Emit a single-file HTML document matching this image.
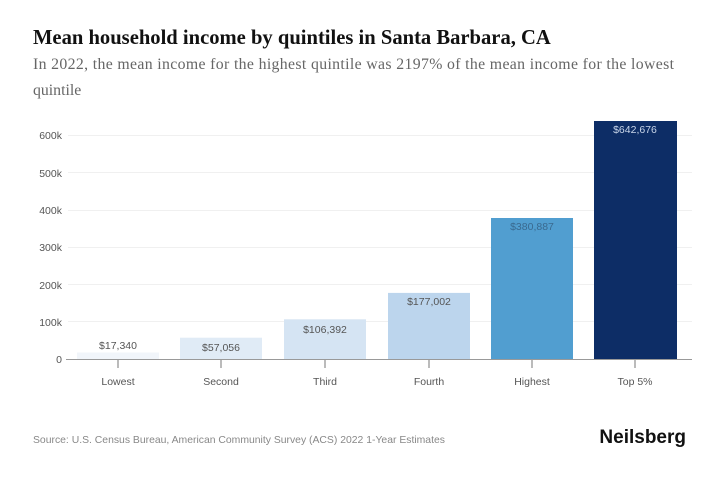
<!DOCTYPE html>
<html><head><meta charset="utf-8"><style>
body{margin:0;background:#fff;width:720px;height:480px;overflow:hidden}
</style></head><body>
<svg width="720" height="480" xmlns="http://www.w3.org/2000/svg">
<text x="33" y="44" font-family="Liberation Serif, serif" font-weight="bold" font-size="20.6" fill="#111">Mean household income by quintiles in Santa Barbara, CA</text>
<text x="33" y="69" font-family="Liberation Serif, serif" font-size="15.8" fill="#666" textLength="641" lengthAdjust="spacing">In 2022, the mean income for the highest quintile was 2197% of the mean income for the lowest</text>
<text x="33" y="95" font-family="Liberation Serif, serif" font-size="15.8" fill="#666">quintile</text>
<g font-family="Liberation Sans, sans-serif" font-size="10.5" fill="#555" text-anchor="end">
<text x="62" y="363">0</text><text x="62" y="326">100k</text><text x="62" y="289">200k</text><text x="62" y="251">300k</text><text x="62" y="214">400k</text><text x="62" y="177">500k</text><text x="62" y="139">600k</text>
</g>
<g stroke="#f0f0f0" stroke-width="1">
<line x1="68" x2="692" y1="321.5" y2="321.5"/><line x1="68" x2="692" y1="284.5" y2="284.5"/><line x1="68" x2="692" y1="247.5" y2="247.5"/><line x1="68" x2="692" y1="210.5" y2="210.5"/><line x1="68" x2="692" y1="172.5" y2="172.5"/><line x1="68" x2="692" y1="135.5" y2="135.5"/>
</g>
<rect x="77" y="352.5" width="82" height="6.5" fill="#f1f5fa"/>
<rect x="180" y="337.7" width="82" height="21.3" fill="#e0ebf6"/>
<rect x="284" y="319.3" width="82" height="39.7" fill="#d5e4f3"/>
<rect x="388" y="292.9" width="82" height="66.1" fill="#bcd5ed"/>
<rect x="491" y="218" width="82" height="141" fill="#519ed0"/>
<rect x="594" y="121" width="83" height="238" fill="#0d2d66"/>
<line x1="66" x2="692" y1="359.5" y2="359.5" stroke="#999"/>
<g stroke="#777"><line x1="118" x2="118" y1="360" y2="368"/><line x1="221" x2="221" y1="360" y2="368"/><line x1="325" x2="325" y1="360" y2="368"/><line x1="429" x2="429" y1="360" y2="368"/><line x1="532" x2="532" y1="360" y2="368"/><line x1="635" x2="635" y1="360" y2="368"/></g>
<g font-family="Liberation Sans, sans-serif" font-size="10.5" fill="#555" text-anchor="middle">
<text x="118" y="349">$17,340</text><text x="221" y="351">$57,056</text><text x="325" y="333">$106,392</text><text x="429" y="305">$177,002</text><text x="532" y="230" fill="#3a6a90">$380,887</text><text x="635" y="133" fill="#c9d6ea">$642,676</text>
<text x="118" y="385">Lowest</text><text x="221" y="385">Second</text><text x="325" y="385">Third</text><text x="429" y="385">Fourth</text><text x="532" y="385">Highest</text><text x="635" y="385">Top 5%</text>
</g>
<text x="33" y="443" font-family="Liberation Sans, sans-serif" font-size="10.4" fill="#888">Source: U.S. Census Bureau, American Community Survey (ACS) 2022 1-Year Estimates</text>
<text x="686" y="443" text-anchor="end" font-family="Liberation Sans, sans-serif" font-weight="bold" font-size="19" fill="#111">Neilsberg</text>
</svg>
</body></html>
